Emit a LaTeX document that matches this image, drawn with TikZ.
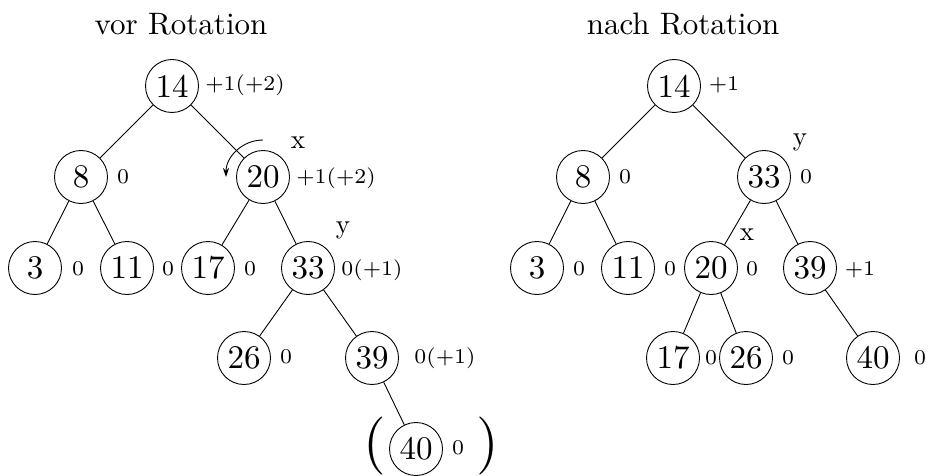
\documentclass[tikz,border=0pt]{standalone}
\usepackage{fontspec}
\usetikzlibrary{arrows.meta}
\newfontfamily\tenrm{lmroman10-regular.otf}
\newfontfamily\sevenrm{lmroman7-regular.otf}
\begin{document}
\begin{tikzpicture}[x=1pt,y=-1pt,
  nd/.style={circle,draw,line width=0.9pt,minimum size=53pt,inner sep=0pt,font=\tenrm\fontsize{33}{36}\selectfont},
  bal/.style={anchor=base,inner sep=0pt,font=\sevenrm\fontsize{21}{24}\selectfont},
  ttl/.style={anchor=base,inner sep=0pt,font=\tenrm\fontsize{31}{34}\selectfont},
  xy/.style={anchor=base,inner sep=0pt,font=\tenrm\fontsize{27}{30}\selectfont},
  par/.style={inner sep=0pt,font=\tenrm\fontsize{58}{60}\selectfont},
  edge/.style={line width=0.9pt}]
\useasboundingbox (0,0) rectangle (928,476);
% ---------- left tree ----------
\node[ttl] (t1) at (181,35) {vor Rotation};
\node[nd] (l14) at (172,86) {14};
\node[nd] (l8) at (81,177) {8};
\node[nd] (l20) at (263,177) {20};
\node[nd] (l3) at (35,268) {3};
\node[nd] (l11) at (127,268) {11};
\node[nd] (l17) at (208,268) {17};
\node[nd] (l33) at (308,268) {33};
\node[nd] (l26) at (244,358) {26};
\node[nd] (l39) at (372,358) {39};
\node[nd] (l40) at (416,449) {40};
\draw[edge] (l14) -- (l8);
\draw[edge] (l14) -- (l20);
\draw[edge] (l8) -- (l3);
\draw[edge] (l8) -- (l11);
\draw[edge] (l20) -- (l17);
\draw[edge] (l20) -- (l33);
\draw[edge] (l33) -- (l26);
\draw[edge] (l33) -- (l39);
\draw[edge] (l39) -- (l40);
\node[bal] (bl14) at (245,91) {+1(+2)};
\node[bal] (bl8) at (123,183) {0};
\node[bal] (bl20) at (336,183) {+1(+2)};
\node[bal] (bl3) at (78,275) {0};
\node[bal] (bl11) at (168,275) {0};
\node[bal] (bl17) at (250,275) {0};
\node[bal] (bl33) at (372,275) {0(+1)};
\node[bal] (bl26) at (286,363) {0};
\node[bal] (bl39) at (445,363) {0(+1)};
\node[bal] (bl40) at (458,454) {0};
\node[xy] (lx) at (298,148) {x};
\node[xy] (ly) at (343,233) {y};
\node[par] (lpo) at (375,446) {(};
\node[par] (lpc) at (488,446) {)};
\draw[line width=0.9pt,-{Stealth[length=9pt,width=6pt]}] ([shift={(0,-37)}]l20.center) arc[start angle=-90,end angle=-180,radius=37];
% ---------- right tree ----------
\node[ttl] (t2) at (683,35) {nach Rotation};
\node[nd] (r14) at (674,86) {14};
\node[nd] (r8) at (583,177) {8};
\node[nd] (r33) at (764,177) {33};
\node[nd] (r3) at (537,268) {3};
\node[nd] (r11) at (628,268) {11};
\node[nd] (r20) at (711,268) {20};
\node[nd] (r39) at (810,268) {39};
\node[nd] (r17) at (673,358) {17};
\node[nd] (r26) at (746,358) {26};
\node[nd] (r40) at (873,358) {40};
\draw[edge] (r14) -- (r8);
\draw[edge] (r14) -- (r33);
\draw[edge] (r8) -- (r3);
\draw[edge] (r8) -- (r11);
\draw[edge] (r33) -- (r20);
\draw[edge] (r33) -- (r39);
\draw[edge] (r20) -- (r17);
\draw[edge] (r20) -- (r26);
\draw[edge] (r39) -- (r40);
\node[bal] (br14) at (724,91) {+1};
\node[bal] (br8) at (625,183) {0};
\node[bal] (br33) at (806,183) {0};
\node[bal] (br3) at (579,275) {0};
\node[bal] (br11) at (670,275) {0};
\node[bal] (br20) at (752,275) {0};
\node[bal] (br39) at (860,275) {+1};
\node[bal] (br17) at (711,364) {0};
\node[bal] (br26) at (788,364) {0};
\node[bal] (br40) at (920,364) {0};
\node[xy] (ry) at (800,146) {y};
\node[xy] (rx) at (747,240) {x};
\end{tikzpicture}
\end{document}
